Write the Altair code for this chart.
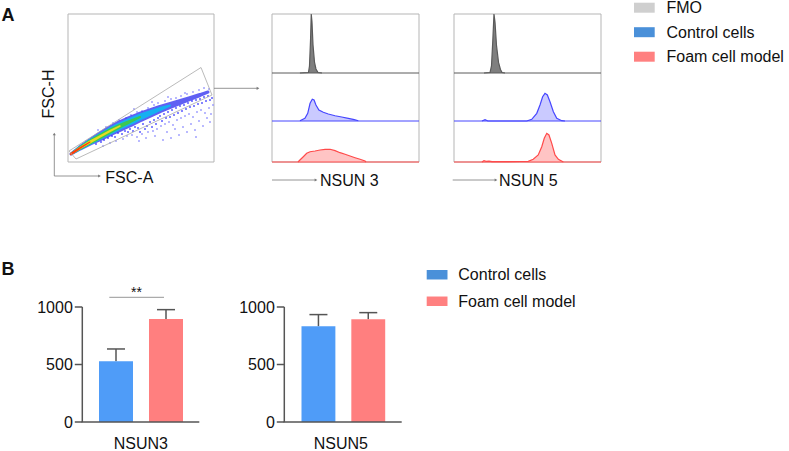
import altair as alt
import pandas as pd

FONT = "Liberation Sans"
TXT = "#111111"
AX = "#555555"
ARW = "#7a7a7a"

# ---------------- Panel A : FSC-A / FSC-H density (arbitrary units) -------------
gate_x = [1, 133, 144, 8, 1]
gate_y = [11, 94.5, 67, 3, 11]

core_x = [3, 12, 22, 32, 42, 52, 62, 72, 82, 92, 102, 112, 122, 132, 140]
core_y = [8, 14, 20, 25.5, 31, 36, 40.5, 45, 49, 53, 56.5, 60, 63.5, 67, 70]
w_blue = [3, 5, 7, 9, 10, 11, 11, 10, 9, 8, 7, 6, 5, 4, 3]
w_cyan = [2.5, 4, 5.5, 6.5, 7, 7, 7, 6.5, 5.5, 4, 2]
w_green = [2, 3.5, 4.5, 5, 5, 4.5, 3.5, 2]
w_yellow = [2, 2.5, 3, 2.5, 2, 1.5]
w_red = [2.5, 2, 1]

dots_dark_x = [28, 33, 36, 40, 44, 47, 50, 54, 57, 60, 62, 65, 67, 70, 72, 75, 77, 79, 82, 84, 86, 88,
               90, 92, 94, 96, 98, 100, 102, 104, 106, 108, 110, 112, 114, 116, 118, 120, 122, 124,
               126, 128, 130, 132, 134, 136, 138, 140, 142, 144]
dots_dark_y = [18, 20, 22, 24, 26, 25, 29, 28, 31, 30, 33, 31, 35, 34, 30, 38, 33, 36, 40, 35, 42, 38,
               44, 46, 41, 48, 44, 50, 45, 52, 47, 54, 49, 56, 51, 57, 53, 59, 55, 61, 56, 62, 58, 63,
               59, 65, 61, 66, 62, 64]
dots_light_x = [30, 38, 45, 51, 58, 63, 69, 74, 80, 86, 90, 97, 103, 108, 113, 119, 125, 131, 136, 141,
                66, 84, 100, 117, 35, 42, 48, 55, 59, 64, 69, 74, 80, 85, 89, 71, 78, 87, 93, 97, 101,
                105, 109, 113, 117, 121, 125, 129, 133, 137, 141, 145, 99, 107, 115, 123, 131, 139, 143,
                111, 127, 135, 103, 119, 142, 95, 128]
dots_light_y = [32, 35, 39, 42, 44, 47, 50, 51, 54, 57, 59, 61, 63, 64, 66, 68, 70, 72, 74, 73, 53, 60,
                65, 69, 16, 19, 21, 23, 26, 27, 25, 28, 30, 31, 33, 21, 24, 26, 36, 38, 40, 37, 42, 44,
                46, 48, 45, 50, 52, 49, 54, 57, 30, 33, 35, 38, 41, 44, 48, 27, 32, 36, 24, 30, 40, 22, 25]

# ---------------- Panel A : histograms (x = log fluorescence index, y = % of row) --------
fmo3_x = [19.0, 24.8, 25.5, 26.2, 26.7, 27.2, 27.9, 28.9, 29.9, 31.3, 34.0]
fmo3_y = [0, 0.8, 11.9, 55, 100, 86.4, 47.5, 18.6, 6.8, 0.8, 0]
ctl3_x = [19.0, 22.4, 24.3, 25.9, 27.4, 28.6, 29.9, 31.9, 34.9, 38.3, 42.9, 47.4, 51.9, 56.0, 58.7]
ctl3_y = [0.6, 5.6, 16, 36.9, 45.2, 43.8, 33.3, 22.9, 18.1, 14.6, 11, 8.3, 5.6, 2.7, 0.6]
foam3_x = [17.7, 19.0, 21.3, 23.6, 25.9, 29.3, 32.7, 36.1, 39.5, 42.9, 46.3, 49.7, 53.1, 56.5, 59.9, 63.3, 63.9]
foam3_y = [0, 4.9, 12.9, 21.2, 25.1, 26.8, 29.3, 31, 31, 27.6, 22.7, 18.8, 14.6, 10.5, 6.6, 2.4, 0]

fmo5_x = [20.4, 24.5, 25.5, 26.4, 27.2, 27.9, 28.9, 30.3, 31.6, 32.7, 34.7]
fmo5_y = [0, 0.8, 12, 55, 100, 86, 47, 18, 6, 0.8, 0]
ctl5_x = [19.0, 21.1, 23.1, 49.5, 52.9, 56.3, 58.5, 60.3, 61.9, 63.5, 65.3, 67.6, 69.9, 73.3, 75.5]
ctl5_y = [0, 2.7, 0, 0, 3.5, 16, 33.3, 50.6, 57.7, 54.2, 40.2, 19.4, 5.6, 0.6, 0]
foam5_x = [19.0, 20.4, 21.8, 23.8, 25.9, 35.0, 45.0, 50.5, 53.9, 57.3, 59.7, 61.4, 63.1, 64.6, 66.5, 68.7, 71.0, 74.4]
foam5_y = [0, 3, 1.5, 2, 0.8, 1, 1.2, 1.5, 6.6, 17.1, 37.3, 57.8, 70, 65.9, 45.6, 17.1, 6.6, 0]

legend_a = ["FMO", "Control cells", "Foam cell model"]
legend_a_colors = ["#cfcfcf", "#4a90d9", "#ff8080"]

# ---------------- Panel B : bar charts --------------------------------------------------
groups = ["Control cells", "Foam cell model"]
bar_colors = ["#4f9cf8", "#ff7f7f"]
nsun3_mean = [528, 896]
nsun3_sd = [107, 81]
nsun5_mean = [832, 893]
nsun5_sd = [102, 58]
y_ticks = [0, 500, 1000]

ONE = pd.DataFrame({"k": [0]})


def sc(dom, rng, **kw):
    return alt.Scale(domain=dom, range=rng, nice=False, zero=False, **kw)


def label(text, x, y, size=16, align="left", baseline="alphabetic", bold=False, angle=0, color=TXT):
    return alt.Chart(ONE).mark_text(
        text=text, font=FONT, fontSize=size, align=align, baseline=baseline,
        fontWeight="bold" if bold else "normal", angle=angle, color=color,
    ).encode(x=alt.value(x), y=alt.value(y))


def hline(x1, x2, y, color=ARW, w=0.8):
    return alt.Chart(ONE).mark_rule(color=color, strokeWidth=w).encode(
        x=alt.value(x1), x2=alt.value(x2), y=alt.value(y))


def vline(x, y1, y2, color=ARW, w=0.8):
    return alt.Chart(ONE).mark_rule(color=color, strokeWidth=w).encode(
        x=alt.value(x), y=alt.value(y1), y2=alt.value(y2))


def head(x, y, shape):
    return alt.Chart(ONE).mark_point(shape=shape, filled=True, size=10, color=ARW, opacity=1).encode(
        x=alt.value(x), y=alt.value(y))


def frame(x1, x2, y1, y2, color="#b5b5b5"):
    return alt.Chart(ONE).mark_rect(fillOpacity=0, stroke=color, strokeWidth=1).encode(
        x=alt.value(x1), x2=alt.value(x2), y=alt.value(y1), y2=alt.value(y2))


layers = []

# ---- scatter panel
SX = sc([0, 146], [68, 214])
SY = sc([0, 148], [162, 14])
layers.append(frame(68, 214, 14, 162))

dl = pd.DataFrame({"x": dots_light_x, "y": dots_light_y})
layers.append(alt.Chart(dl).mark_square(size=3, color="#8a8aff", opacity=0.9).encode(
    x=alt.X("x:Q", scale=SX, axis=None), y=alt.Y("y:Q", scale=SY, axis=None)))

for widths, col, op in [(w_blue, "#3838f0", 0.8), (w_cyan, "#12b4f0", 0.95),
                        (w_green, "#3cc850", 1.0), (w_yellow, "#e8dc20", 1.0),
                        (w_red, "#ff3a10", 1.0)]:
    n = len(widths)
    d = pd.DataFrame({"x": core_x[:n], "y": core_y[:n], "w": widths})
    layers.append(alt.Chart(d).mark_trail(color=col, opacity=op).encode(
        x=alt.X("x:Q", scale=SX, axis=None), y=alt.Y("y:Q", scale=SY, axis=None),
        size=alt.Size("w:Q", scale=None, legend=None)))

dd = pd.DataFrame({"x": dots_dark_x, "y": dots_dark_y})
layers.append(alt.Chart(dd).mark_square(size=3, color="#3030ff", opacity=0.9).encode(
    x=alt.X("x:Q", scale=SX, axis=None), y=alt.Y("y:Q", scale=SY, axis=None)))

gd = pd.DataFrame({"x": gate_x, "y": gate_y, "o": list(range(len(gate_x)))})
layers.append(alt.Chart(gd).mark_line(color="#a8a8a8", strokeWidth=0.8).encode(
    x=alt.X("x:Q", scale=SX, axis=None), y=alt.Y("y:Q", scale=SY, axis=None), order="o:Q"))

# arrows and labels around scatter
layers += [
    vline(54.3, 134, 176), hline(54.3, 99, 176), head(54.3, 134, "triangle-up"), head(99.5, 176, "triangle-right"),
    hline(214, 257, 88.3), head(258, 88.3, "triangle-right"),
    label("FSC-H", 53.5, 94, align="center", angle=270),
    label("FSC-A", 105.3, 182.5),
    label("A", 1.5, 21, size=18, bold=True),
]

# ---- histogram panels
ROWS = [[73, 14], [121, 73], [162, 121]]


def hist_panel(x0, x1, series):
    out = [frame(x0, x1, 14, 162)]
    XS = sc([0, 100], [x0, x1])
    for (xs, ys, fill, stroke, row) in series:
        d = pd.DataFrame({"x": xs, "y": ys})
        YS = sc([0, 100], ROWS[row])
        out.append(alt.Chart(d).mark_area(color=fill, opacity=1).encode(
            x=alt.X("x:Q", scale=XS, axis=None), y=alt.Y("y:Q", scale=YS, axis=None)))
        out.append(hline(x0, x1, ROWS[row][0], color=stroke, w=1))
        out.append(alt.Chart(d).mark_line(color=stroke, strokeWidth=1.2).encode(
            x=alt.X("x:Q", scale=XS, axis=None), y=alt.Y("y:Q", scale=YS, axis=None)))
    return out


layers += hist_panel(272, 419, [
    (fmo3_x, fmo3_y, "#7f7f7f", "#5a5a5a", 0),
    (ctl3_x, ctl3_y, "#cacaff", "#4646ff", 1),
    (foam3_x, foam3_y, "#ffc4c4", "#ff4a4a", 2),
])
layers += hist_panel(454, 601, [
    (fmo5_x, fmo5_y, "#7f7f7f", "#5a5a5a", 0),
    (ctl5_x, ctl5_y, "#cacaff", "#4646ff", 1),
    (foam5_x, foam5_y, "#ffc4c4", "#ff4a4a", 2),
])
layers += [
    hline(272, 315, 180), head(316, 180, "triangle-right"), label("NSUN 3", 320, 186),
    hline(452.7, 495, 180), head(496, 180, "triangle-right"), label("NSUN 5", 499, 185.5),
]

# ---- legend A
la = pd.DataFrame({"c": legend_a})
LA_Y = alt.Scale(type="band", domain=legend_a, range=[2.7, 61.7], paddingInner=0.592, paddingOuter=0)
LA_C = alt.Scale(domain=legend_a, range=legend_a_colors)
layers.append(alt.Chart(la).mark_rect().encode(
    x=alt.value(634), x2=alt.value(654.7), y=alt.Y("c:N", scale=LA_Y, axis=None),
    color=alt.Color("c:N", scale=LA_C, legend=None)))
layers.append(alt.Chart(la).mark_text(font=FONT, fontSize=16, align="left", baseline="middle", color=TXT, dy=0.5).encode(
    x=alt.value(666.5), y=alt.Y("c:N", scale=LA_Y, axis=None, bandPosition=0.5), text="c:N"))

# ---- panel B bar charts
BY = sc([0, 1000], [422, 307])


def bar_panel(mean, sd, ax_x, x_end, band_rng, title, title_x):
    d = pd.DataFrame({"g": groups, "m": mean, "u": [a + b for a, b in zip(mean, sd)]})
    BX = alt.Scale(type="band", domain=groups, range=band_rng, paddingInner=0.32, paddingOuter=0)
    out = []
    out.append(alt.Chart(d).mark_rule(color=AX, strokeWidth=1.5).encode(
        x=alt.X("g:N", scale=BX, axis=None, bandPosition=0.5),
        y=alt.Y("m:Q", scale=BY, axis=None), y2="u:Q"))
    out.append(alt.Chart(d).mark_tick(color=AX, thickness=1.5, size=18, orient="horizontal", opacity=1).encode(
        x=alt.X("g:N", scale=BX, axis=None, bandPosition=0.5),
        y=alt.Y("u:Q", scale=BY, axis=None)))
    out.append(alt.Chart(d).mark_bar(opacity=1).encode(
        x=alt.X("g:N", scale=BX, axis=None),
        y=alt.Y("m:Q", scale=BY, axis=None),
        color=alt.Color("g:N", scale=alt.Scale(domain=groups, range=bar_colors), legend=None)))
    t = pd.DataFrame({"v": y_ticks})
    out.append(alt.Chart(t).mark_rule(color=AX, strokeWidth=1.5).encode(
        x=alt.value(ax_x - 7.5), x2=alt.value(ax_x), y=alt.Y("v:Q", scale=BY, axis=None)))
    out.append(alt.Chart(t).mark_text(font=FONT, fontSize=16, align="right", baseline="middle", color=TXT, dy=0.5).encode(
        x=alt.value(ax_x - 9.5), y=alt.Y("v:Q", scale=BY, axis=None), text="v:Q"))
    ax = pd.DataFrame({"lo": [0], "hi": [1000]})
    out.append(alt.Chart(ax).mark_rule(color=AX, strokeWidth=1.5).encode(
        x=alt.value(ax_x), y=alt.Y("lo:Q", scale=BY, axis=None), y2="hi:Q"))
    out.append(alt.Chart(ax).mark_rule(color=AX, strokeWidth=1.5).encode(
        x=alt.value(ax_x - 0.75), x2=alt.value(x_end), y=alt.Y("lo:Q", scale=BY, axis=None)))
    out.append(label(title, title_x, 449.3, align="center"))
    return out


layers += bar_panel(nsun3_mean, nsun3_sd, 82.3, 199.3, [99, 183], "NSUN3", 140.8)
layers += bar_panel(nsun5_mean, nsun5_sd, 284.3, 401.7, [301.5, 385.2], "NSUN5", 340.8)
layers += [
    hline(109.3, 164, 297.3, color="#8a8a8a", w=0.9),
    label("**", 136.5, 296.5, size=14, align="center"),
    label("B", 1.5, 275, size=18, bold=True),
]

# ---- legend B
lb = pd.DataFrame({"c": groups})
LB_Y = alt.Scale(type="band", domain=groups, range=[270, 306], paddingInner=0.642, paddingOuter=0)
LB_C = alt.Scale(domain=groups, range=["#4a90d9", "#ff8080"])
layers.append(alt.Chart(lb).mark_rect().encode(
    x=alt.value(426.7), x2=alt.value(447.5), y=alt.Y("c:N", scale=LB_Y, axis=None),
    color=alt.Color("c:N", scale=LB_C, legend=None)))
layers.append(alt.Chart(lb).mark_text(font=FONT, fontSize=16, align="left", baseline="middle", color=TXT, dy=0.5).encode(
    x=alt.value(458.3), y=alt.Y("c:N", scale=LB_Y, axis=None, bandPosition=0.5), text="c:N"))

chart = alt.layer(*layers).resolve_scale(
    x="independent", y="independent", color="independent", size="independent"
).properties(
    width=789, height=451, padding=0, autosize=alt.AutoSizeParams(type="none"), background="white"
).configure_view(strokeOpacity=0)

chart.save("out.html", embed_options={"renderer": "svg", "actions": False})
